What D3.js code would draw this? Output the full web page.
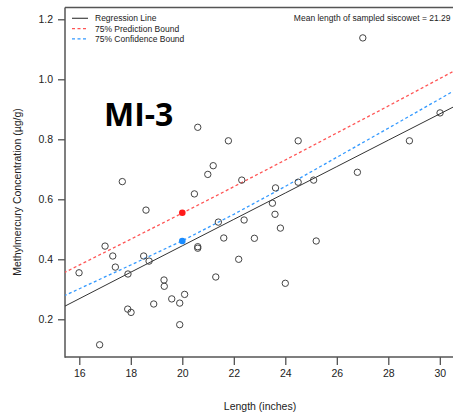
<!DOCTYPE html>
<html>
<head>
<meta charset="utf-8">
<script src="https://cdn.jsdelivr.net/npm/d3@7"></script>
<style>
  html, body { margin: 0; padding: 0; background: #fff; }
  svg { display: block; font-family: "Liberation Sans", Arial, sans-serif; }
</style>
</head>
<body>
<svg id="chart" width="453" height="417"></svg>
<script>
// ---- data ----
const lengths = [17.67, 18.59, 17.0, 17.30, 17.40, 15.99, 18.5, 18.71, 17.89, 19.29,
  19.30, 19.59, 20.09, 19.90, 18.89, 17.88, 18.01, 19.90, 16.79, 20.47,
  20.6, 20.6, 21.4, 21.61, 22.40, 22.80, 22.19, 21.30, 23.50, 23.60,
  23.81, 24.0, 25.2, 23.62, 20.60, 21.79, 21.20, 20.99, 22.31, 24.50,
  24.50, 25.10, 27.01, 30.01, 28.82, 26.80];
const mercury = [0.659, 0.564, 0.444, 0.411, 0.374, 0.355, 0.411, 0.394, 0.351, 0.331,
  0.310, 0.268, 0.283, 0.254, 0.251, 0.234, 0.223, 0.182, 0.115, 0.618,
  0.442, 0.437, 0.524, 0.471, 0.531, 0.470, 0.400, 0.341, 0.587, 0.550,
  0.504, 0.320, 0.461, 0.638, 0.840, 0.795, 0.712, 0.683, 0.664, 0.795,
  0.657, 0.664, 1.138, 0.888, 0.795, 0.690];

const lineX = [15.4, 18, 20, 22, 24, 26, 28, 30.6];
const regression = [0.242, 0.357, 0.445, 0.533, 0.621, 0.709, 0.797, 0.911];
const predictionUpper = [0.355, 0.467, 0.554, 0.642, 0.731, 0.821, 0.911, 1.030];
const confidenceUpper = [0.278, 0.381, 0.462, 0.550, 0.643, 0.740, 0.837, 0.964];

const highlightX = [20, 20];
const highlightY = [0.555, 0.461];
const highlightColors = ["#ff1a1a", "#1a8cff"];

const xTicks = [16, 18, 20, 22, 24, 26, 28, 30];
const yTicks = [0.2, 0.4, 0.6, 0.8, 1.0, 1.2];

const legendLabels = ["Regression Line", "75% Prediction Bound", "75% Confidence Bound"];
const legendColors = ["#444", "#ff5555", "#3399ff"];
const legendDash = [null, "3,2.5", "3,2.5"];

const siteLabel = "MI-3";
const meanNote = "Mean length of sampled siscowet = 21.29";
const xTitle = "Length (inches)";
const yTitle = "Methylmercury Concentration (\u00b5g/g)";

// ---- layout ----
const svg = d3.select("#chart");
const pLeft = 65, pTop = 7.5, pBottom = 357, pRight = 470;

const x = d3.scaleLinear().domain([16, 30]).range([79.3, 439.8]);
const y = d3.scaleLinear().domain([0.2, 1.2]).range([319.3, 19.3]);

svg.append("defs").append("clipPath").attr("id", "clip")
  .append("rect").attr("x", pLeft).attr("y", pTop).attr("width", pRight - pLeft).attr("height", pBottom - pTop);

// frame (top edge)
svg.append("line").attr("x1", pLeft).attr("x2", 453).attr("y1", pTop).attr("y2", pTop)
  .attr("stroke", "#555").attr("stroke-width", 1.5);

// axes
const xAxis = d3.axisBottom(x).tickValues(xTicks).tickSize(8).tickPadding(5).tickFormat(d3.format("d"));
const gx = svg.append("g").attr("transform", `translate(0,${pBottom})`).call(xAxis);
gx.select(".domain").remove();
gx.append("line").attr("x1", pLeft).attr("x2", 453).attr("stroke", "#555").attr("stroke-width", 1.5);

const yAxis = d3.axisLeft(y).tickValues(yTicks).tickSize(7).tickPadding(5).tickFormat(d3.format(".1f"));
const gy = svg.append("g").attr("transform", `translate(${pLeft},0)`).call(yAxis);
gy.select(".domain").remove();
gy.append("line").attr("y1", pTop).attr("y2", pBottom + 0.75).attr("stroke", "#555").attr("stroke-width", 1.5);

[gx, gy].forEach(g => {
  g.selectAll(".tick line").attr("stroke", "#444").attr("stroke-width", 1.2);
  g.selectAll(".tick text").attr("fill", "#222").style("font-size", "10.5px")
    .style("font-family", "'Liberation Sans', Arial, sans-serif");
});

// axis titles
svg.append("text").attr("x", 260).attr("y", 410).attr("text-anchor", "middle")
  .attr("fill", "#222").style("font-size", "10.5px").text(xTitle);
svg.append("text").attr("transform", "translate(21,192) rotate(-90)").attr("text-anchor", "middle")
  .attr("fill", "#222").style("font-size", "10.5px").text(yTitle);

// lines
const plot = svg.append("g").attr("clip-path", "url(#clip)");
const lineGen = vals => d3.line().x((d, i) => x(lineX[i])).y(d => y(d))(vals);

plot.append("path").attr("d", lineGen(predictionUpper)).attr("fill", "none")
  .attr("stroke", "#ff5555").attr("stroke-width", 1.3).attr("stroke-dasharray", "3,2.5");
plot.append("path").attr("d", lineGen(confidenceUpper)).attr("fill", "none")
  .attr("stroke", "#3399ff").attr("stroke-width", 1.3).attr("stroke-dasharray", "3,2.5");
plot.append("path").attr("d", lineGen(regression)).attr("fill", "none")
  .attr("stroke", "#333").attr("stroke-width", 1);

// points
plot.selectAll("circle.obs").data(lengths).enter().append("circle")
  .attr("class", "obs")
  .attr("cx", d => x(d)).attr("cy", (d, i) => y(mercury[i])).attr("r", 3.2)
  .attr("fill", "none").attr("stroke", "#444").attr("stroke-width", 1);

plot.selectAll("circle.hl").data(highlightX).enter().append("circle")
  .attr("class", "hl")
  .attr("cx", d => x(d)).attr("cy", (d, i) => y(highlightY[i])).attr("r", 3.3)
  .attr("fill", (d, i) => highlightColors[i]);

// legend
const lg = svg.append("g");
legendLabels.forEach((lab, i) => {
  const cy = 18.3 + i * 10.3;
  const ln = lg.append("line").attr("x1", 72).attr("x2", 88).attr("y1", cy).attr("y2", cy)
    .attr("stroke", legendColors[i]).attr("stroke-width", i === 0 ? 1.2 : 1.3);
  if (legendDash[i]) ln.attr("stroke-dasharray", legendDash[i]);
  lg.append("text").attr("x", 95).attr("y", cy + 3).attr("fill", "#222")
    .style("font-size", "8.5px").text(lab);
});

svg.append("text").attr("x", 450.5).attr("y", 21.3).attr("text-anchor", "end")
  .attr("fill", "#222").style("font-size", "8.5px").text(meanNote);

svg.append("text").attr("x", 104).attr("y", 125.5).attr("fill", "#000")
  .style("font-size", "32px").style("font-weight", "bold")
  .style("font-family", "'Open Sans', 'Liberation Sans', Arial, sans-serif").text(siteLabel);
</script>
</body>
</html>
